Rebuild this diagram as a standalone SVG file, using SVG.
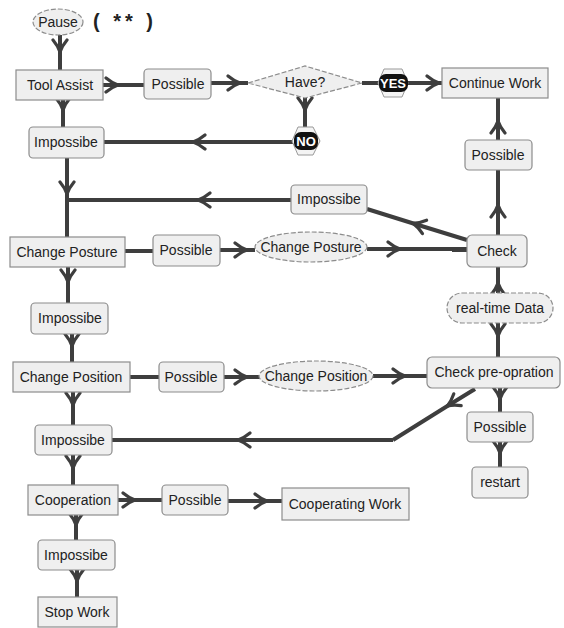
<svg xmlns="http://www.w3.org/2000/svg" width="564" height="628" viewBox="0 0 564 628">
<defs>
<style>
.box{fill:#efefef;stroke:#8c8c8c;stroke-width:1.2}
.ell{fill:#efefef;stroke:#8c8c8c;stroke-width:1.2;stroke-dasharray:5 2}
.t{font-family:"Liberation Sans",Arial,sans-serif;font-size:14px;fill:#222;text-anchor:middle;dominant-baseline:central}
.tw{font-family:"Liberation Sans",Arial,sans-serif;font-size:13px;font-weight:bold;fill:#fff;text-anchor:middle;dominant-baseline:central}
.c{fill:none;stroke:#3e3e3e;stroke-width:4;marker-mid:url(#ah)}
.c2{fill:none;stroke:#3e3e3e;stroke-width:4}
</style>
<marker id="ah" viewBox="-12 -9 16 18" markerWidth="16" markerHeight="18" refX="0" refY="0" orient="auto" markerUnits="userSpaceOnUse">
<path d="M-10,-7 Q-4,-2 2,0 Q-4,2 -10,7" fill="none" stroke="#3e3e3e" stroke-width="3.2" stroke-linecap="round" stroke-linejoin="round"/>
</marker>
</defs>
<rect width="564" height="628" fill="#fff"/>

<g id="connectors">
<path class="c" d="M60,35 L60,50 L60,70"/>
<path class="c" d="M103,85 L116,85 L144,85"/>
<path class="c" d="M211,83 L238,83 L248,83"/>
<path class="c2" d="M362,83 L380,83" stroke="#555"/>
<path class="c" d="M407,83 L437,83 L442,83"/>
<path class="c" d="M305,98 L305,108 L305,127"/>
<path class="c" d="M295,142 L195,142 L104,142"/>
<path class="c" d="M63,100 L63,108 L63,127"/>
<path class="c" d="M67,158 L67,192 L67,237"/>
<path class="c" d="M291,200 L200,200 L67,200"/>
<path class="c" d="M467,240 L415,224 L367,209"/>
<path class="c" d="M498,235 L498,207 L498,170"/>
<path class="c" d="M498,140 L498,123 L498,98"/>
<path class="c2" d="M125,251 L153,251" stroke-width="6"/>
<path class="c" d="M220,250 L245,250 L255,250"/>
<path class="c" d="M367,249 L398,249 L467,249"/>
<path class="c2" d="M452,250 L467,250" stroke-width="6"/>
<path class="c" d="M498,293 L498,285 L498,267"/>
<path class="c" d="M498,323 L498,334 L498,357"/>
<path class="c" d="M68,267 L68,280 L68,303"/>
<path class="c" d="M72,334 L72,344 L72,362"/>
<path class="c2" d="M130,377 L159,377"/>
<path class="c" d="M224,377 L245,377 L260,377"/>
<path class="c" d="M373,376 L403,376 L427,376"/>
<path class="c" d="M73,392 L73,403 L73,425"/>
<path class="c" d="M475,389 L449,405 L393,440"/>
<path class="c" d="M393,440 L240,440 L112,440"/>
<path class="c" d="M500,388 L500,397 L500,412"/>
<path class="c" d="M500,442 L500,451 L500,467"/>
<path class="c" d="M73,455 L73,466 L73,485"/>
<path class="c" d="M118,500 L133,500 L162,500"/>
<path class="c" d="M228,501 L265,501 L282,501"/>
<path class="c" d="M76,515 L76,523 L76,540"/>
<path class="c" d="M77,570 L77,579 L77,597"/>
</g>

<g id="pause"><ellipse class="ell" cx="58" cy="22" rx="25" ry="13"/><text class="t" x="58" y="22">Pause</text></g>
<g id="note"><text x="125" y="21" font-family="Liberation Sans,Arial,sans-serif" font-size="20" font-weight="bold" letter-spacing="4" fill="#222" text-anchor="middle" dominant-baseline="central">( ** )</text></g>
<g id="tool-assist"><rect class="box" x="16" y="70" width="87" height="30"/><text class="t" x="60" y="85">Tool Assist</text></g>
<g id="possible-1"><rect class="box" x="144" y="69" width="67" height="30" rx="4"/><text class="t" x="178" y="84">Possible</text></g>
<g id="have"><polygon class="ell" points="248,83 305,66 362,83 305,98"/><text class="t" x="305" y="82">Have?</text></g>
<g id="yes"><polygon points="384,69 402,69 408,83 402,97 384,97 378,83" fill="#f4f4f4" stroke="#999"/><rect x="379" y="74" width="29" height="18" rx="7" fill="#111"/><text class="tw" x="393" y="83">YES</text></g>
<g id="continue-work"><rect class="box" x="442" y="68" width="106" height="30"/><text class="t" x="495" y="83">Continue Work</text></g>
<g id="no"><polygon points="298,127 313,127 320,141 313,155 298,155 292,141" fill="#f4f4f4" stroke="#999"/><rect x="294" y="132" width="24" height="18" rx="7" fill="#111"/><text class="tw" x="306" y="141">NO</text></g>
<g id="impossibe-1"><rect class="box" x="29" y="127" width="75" height="31" rx="4"/><text class="t" x="66" y="142">Impossibe</text></g>
<g id="possible-2"><rect class="box" x="465" y="140" width="67" height="30" rx="4"/><text class="t" x="498" y="155">Possible</text></g>
<g id="impossibe-2"><rect class="box" x="291" y="185" width="76" height="29" rx="4"/><text class="t" x="329" y="199">Impossibe</text></g>
<g id="change-posture"><rect class="box" x="10" y="237" width="115" height="30"/><text class="t" x="67" y="252">Change Posture</text></g>
<g id="possible-3"><rect class="box" x="153" y="235" width="67" height="31" rx="4"/><text class="t" x="186" y="250">Possible</text></g>
<g id="change-posture-e"><ellipse class="ell" cx="311" cy="247" rx="56" ry="15"/><text class="t" x="311" y="247">Change Posture</text></g>
<g id="check"><rect class="box" x="467" y="235" width="60" height="32" rx="5"/><text class="t" x="497" y="251">Check</text></g>
<g id="real-time-data"><rect class="box" x="447" y="293" width="106" height="30" rx="15" stroke-dasharray="5 2"/><text class="t" x="500" y="308">real-time Data</text></g>
<g id="impossibe-3"><rect class="box" x="31" y="303" width="77" height="31" rx="4"/><text class="t" x="70" y="318">Impossibe</text></g>
<g id="change-position"><rect class="box" x="13" y="362" width="117" height="30"/><text class="t" x="71" y="377">Change Position</text></g>
<g id="possible-4"><rect class="box" x="159" y="362" width="65" height="30" rx="4"/><text class="t" x="191" y="377">Possible</text></g>
<g id="change-position-e"><ellipse class="ell" cx="316" cy="376" rx="57" ry="15"/><text class="t" x="316" y="376">Change Position</text></g>
<g id="check-pre"><rect class="box" x="427" y="357" width="133" height="31" rx="5"/><text class="t" x="494" y="372">Check pre-opration</text></g>
<g id="possible-5"><rect class="box" x="467" y="412" width="66" height="30" rx="4"/><text class="t" x="500" y="427">Possible</text></g>
<g id="restart"><rect class="box" x="472" y="467" width="56" height="31" rx="4"/><text class="t" x="500" y="482">restart</text></g>
<g id="impossibe-4"><rect class="box" x="35" y="425" width="77" height="30" rx="4"/><text class="t" x="73" y="440">Impossibe</text></g>
<g id="cooperation"><rect class="box" x="28" y="485" width="90" height="30"/><text class="t" x="73" y="500">Cooperation</text></g>
<g id="possible-6"><rect class="box" x="162" y="485" width="66" height="30" rx="4"/><text class="t" x="195" y="500">Possible</text></g>
<g id="cooperating-work"><rect class="box" x="282" y="488" width="127" height="32"/><text class="t" x="345" y="504">Cooperating Work</text></g>
<g id="impossibe-5"><rect class="box" x="38" y="540" width="77" height="30" rx="4"/><text class="t" x="76" y="555">Impossibe</text></g>
<g id="stop-work"><rect class="box" x="38" y="597" width="79" height="30"/><text class="t" x="77" y="612">Stop Work</text></g>
</svg>
